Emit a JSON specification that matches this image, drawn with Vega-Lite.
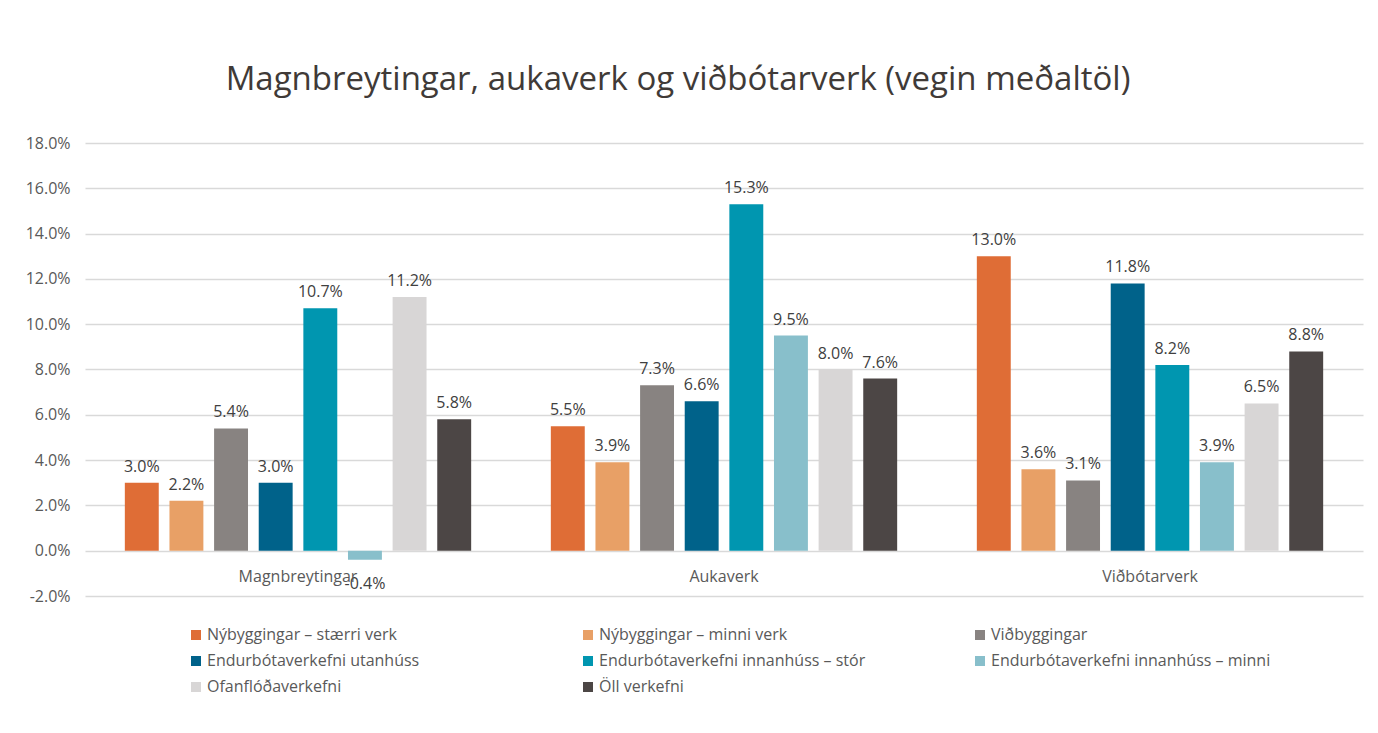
{
  "$schema": "https://vega.github.io/schema/vega-lite/v6.json",
  "width": 1278,
  "height": 453,
  "autosize": {"type": "none"},
  "padding": {"left": 85, "top": 143, "right": 15, "bottom": 137},
  "background": "#ffffff",
  "title": {
    "text": "Magnbreytingar, aukaverk og viðbótarverk (vegin meðaltöl)",
    "font": "Open Sans",
    "fontSize": 33,
    "fontWeight": "normal",
    "color": "#403a37",
    "anchor": "middle",
    "offset": 38,
    "dx": -46
  },
  "config": {
    "view": {"stroke": null},
    "font": "Open Sans"
  },
  "data": {
    "values": [
      {"flokkur": "Magnbreytingar", "tegund": "Nýbyggingar – stærri verk", "gildi": 0.030},
      {"flokkur": "Magnbreytingar", "tegund": "Nýbyggingar – minni verk", "gildi": 0.022},
      {"flokkur": "Magnbreytingar", "tegund": "Viðbyggingar", "gildi": 0.054},
      {"flokkur": "Magnbreytingar", "tegund": "Endurbótaverkefni utanhúss", "gildi": 0.030},
      {"flokkur": "Magnbreytingar", "tegund": "Endurbótaverkefni innanhúss – stór", "gildi": 0.107},
      {"flokkur": "Magnbreytingar", "tegund": "Endurbótaverkefni innanhúss – minni", "gildi": -0.004},
      {"flokkur": "Magnbreytingar", "tegund": "Ofanflóðaverkefni", "gildi": 0.112},
      {"flokkur": "Magnbreytingar", "tegund": "Öll verkefni", "gildi": 0.058},
      {"flokkur": "Aukaverk", "tegund": "Nýbyggingar – stærri verk", "gildi": 0.055},
      {"flokkur": "Aukaverk", "tegund": "Nýbyggingar – minni verk", "gildi": 0.039},
      {"flokkur": "Aukaverk", "tegund": "Viðbyggingar", "gildi": 0.073},
      {"flokkur": "Aukaverk", "tegund": "Endurbótaverkefni utanhúss", "gildi": 0.066},
      {"flokkur": "Aukaverk", "tegund": "Endurbótaverkefni innanhúss – stór", "gildi": 0.153},
      {"flokkur": "Aukaverk", "tegund": "Endurbótaverkefni innanhúss – minni", "gildi": 0.095},
      {"flokkur": "Aukaverk", "tegund": "Ofanflóðaverkefni", "gildi": 0.080},
      {"flokkur": "Aukaverk", "tegund": "Öll verkefni", "gildi": 0.076},
      {"flokkur": "Viðbótarverk", "tegund": "Nýbyggingar – stærri verk", "gildi": 0.130},
      {"flokkur": "Viðbótarverk", "tegund": "Nýbyggingar – minni verk", "gildi": 0.036},
      {"flokkur": "Viðbótarverk", "tegund": "Viðbyggingar", "gildi": 0.031},
      {"flokkur": "Viðbótarverk", "tegund": "Endurbótaverkefni utanhúss", "gildi": 0.118},
      {"flokkur": "Viðbótarverk", "tegund": "Endurbótaverkefni innanhúss – stór", "gildi": 0.082},
      {"flokkur": "Viðbótarverk", "tegund": "Endurbótaverkefni innanhúss – minni", "gildi": 0.039},
      {"flokkur": "Viðbótarverk", "tegund": "Ofanflóðaverkefni", "gildi": 0.065},
      {"flokkur": "Viðbótarverk", "tegund": "Öll verkefni", "gildi": 0.088}
    ]
  },
  "transform": [
    {"calculate": "replace(format(datum.gildi, '.1%'), '\u2212', '-')", "as": "merki"}
  ],
  "encoding": {
    "x": {
      "field": "flokkur",
      "type": "nominal",
      "sort": ["Magnbreytingar", "Aukaverk", "Viðbótarverk"],
      "scale": {"paddingInner": 0.187, "paddingOuter": 0.0935},
      "axis": {
        "title": null,
        "labelAngle": 0,
        "domain": false,
        "ticks": false,
        "offset": -45,
        "labelPadding": 17,
        "labelFontSize": 16,
        "labelColor": "#595959",
        "labelFont": "Open Sans",
        "zindex": 1
      }
    },
    "xOffset": {
      "field": "tegund",
      "type": "nominal",
      "sort": ["Nýbyggingar – stærri verk", "Nýbyggingar – minni verk", "Viðbyggingar", "Endurbótaverkefni utanhúss", "Endurbótaverkefni innanhúss – stór", "Endurbótaverkefni innanhúss – minni", "Ofanflóðaverkefni", "Öll verkefni"],
      "scale": {"paddingInner": 0.24, "paddingOuter": 0}
    },
    "y": {
      "field": "gildi",
      "type": "quantitative",
      "scale": {"domain": [-0.02, 0.18], "nice": false, "zero": false},
      "axis": {
        "title": null,
        "format": ".1%",
        "labelExpr": "replace(datum.label, '\u2212', '-')",
        "values": [-0.02, 0, 0.02, 0.04, 0.06, 0.08, 0.1, 0.12, 0.14, 0.16, 0.18],
        "domain": false,
        "ticks": false,
        "labelPadding": 15,
        "labelFontSize": 16,
        "labelColor": "#595959",
        "labelFont": "Open Sans",
        "gridColor": "#d9d9d9",
        "gridWidth": 1.5
      }
    }
  },
  "layer": [
    {
      "mark": {"type": "bar"},
      "encoding": {
        "y2": {"datum": 0},
        "color": {
          "field": "tegund",
          "type": "nominal",
          "sort": ["Nýbyggingar – stærri verk", "Nýbyggingar – minni verk", "Viðbyggingar", "Endurbótaverkefni utanhúss", "Endurbótaverkefni innanhúss – stór", "Endurbótaverkefni innanhúss – minni", "Ofanflóðaverkefni", "Öll verkefni"],
          "scale": {
            "domain": ["Nýbyggingar – stærri verk", "Nýbyggingar – minni verk", "Viðbyggingar", "Endurbótaverkefni utanhúss", "Endurbótaverkefni innanhúss – stór", "Endurbótaverkefni innanhúss – minni", "Ofanflóðaverkefni", "Öll verkefni"],
            "range": ["#df6d36", "#e8a066", "#888381", "#00628a", "#0096b0", "#88bfcb", "#d8d6d6", "#4c4645"]
          },
          "legend": {
            "title": null,
            "orient": "none",
            "direction": "horizontal",
            "legendX": 103,
            "legendY": 484,
            "columns": 3,
            "gridAlign": "all",
            "columnPadding": 93,
            "rowPadding": 10,
            "padding": 0,
            "symbolType": "square",
            "symbolSize": 100,
            "symbolStrokeWidth": 0,
            "labelFontSize": 16,
            "labelFont": "Open Sans",
            "labelColor": "#595959",
            "labelOffset": 3,
            "labelLimit": 400
          }
        }
      }
    },
    {
      "transform": [{"filter": "datum.gildi >= 0"}],
      "mark": {"type": "text", "baseline": "alphabetic", "dy": -11, "fontSize": 16, "color": "#404040", "font": "Open Sans"},
      "encoding": {
        "text": {"field": "merki", "type": "nominal"}
      }
    },
    {
      "transform": [{"filter": "datum.gildi < 0"}],
      "mark": {"type": "text", "baseline": "top", "dy": 16, "fontSize": 16, "color": "#404040", "font": "Open Sans"},
      "encoding": {
        "text": {"field": "merki", "type": "nominal"}
      }
    }
  ]
}
